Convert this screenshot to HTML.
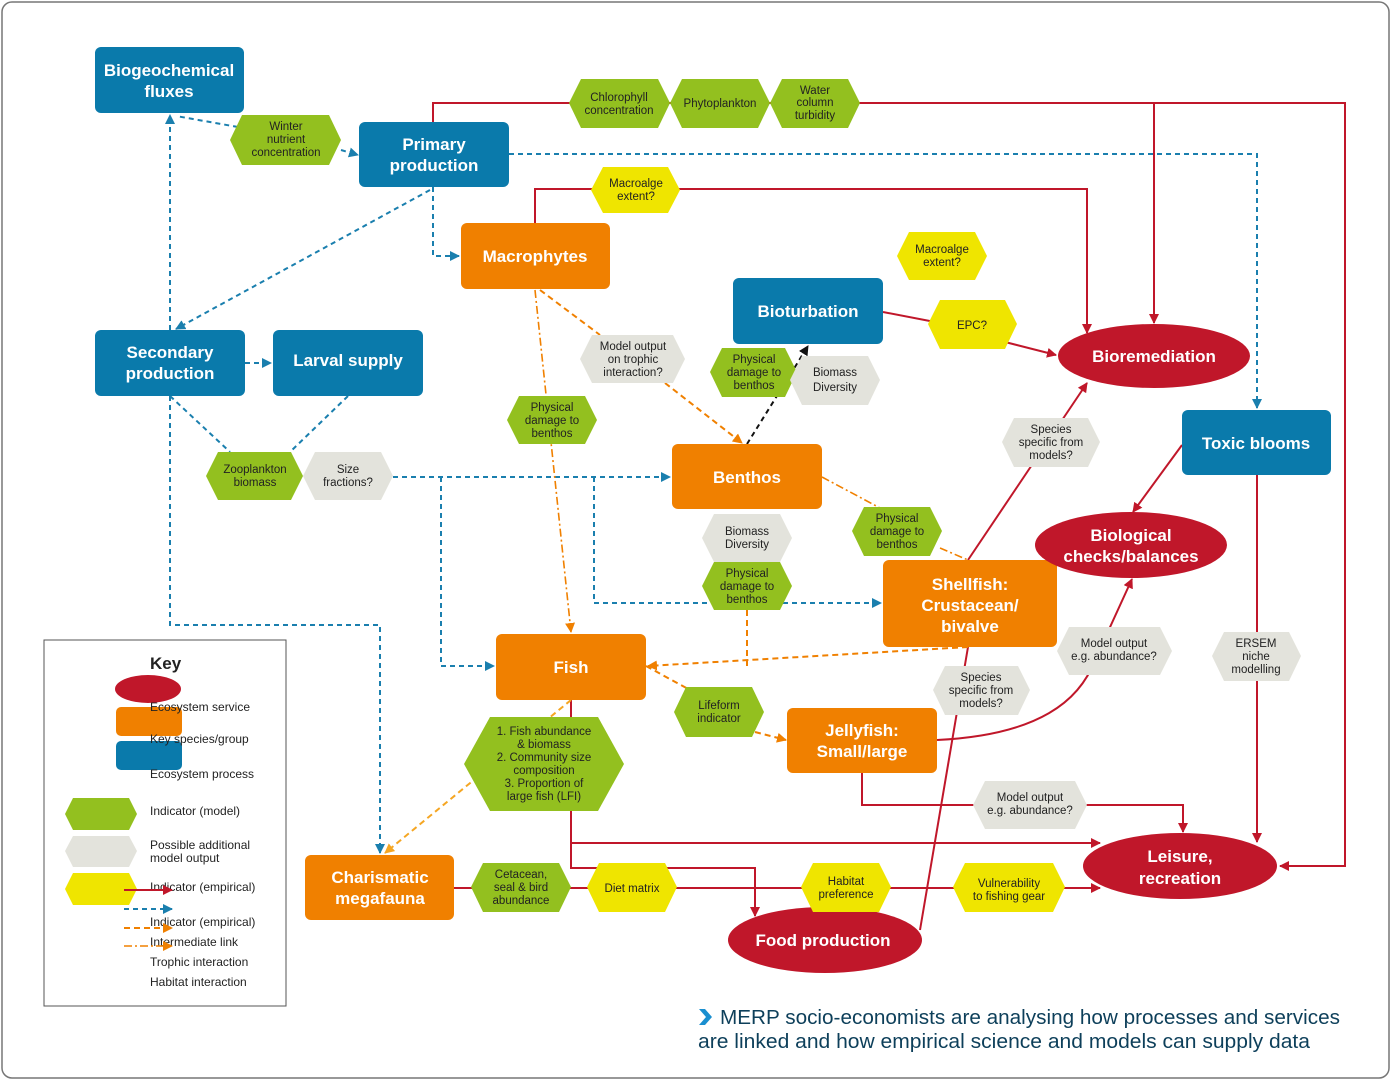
<!DOCTYPE html>
<html><head><meta charset="utf-8"><style>
html,body{margin:0;padding:0;background:#fff}
svg{display:block;font-family:"Liberation Sans",sans-serif}
.n{fill:#fff;font-size:17px;font-weight:bold;text-anchor:middle}
.h{fill:#222;font-size:11.5px;text-anchor:middle}
.k{fill:#222;font-size:12px}
.r{stroke:#c0172a;stroke-width:2;fill:none}
.b{stroke:#1a7fae;stroke-width:2;fill:none;stroke-dasharray:5,4}
.o{stroke:#f08000;stroke-width:2;fill:none;stroke-dasharray:6,4}
.od{stroke:#f08000;stroke-width:1.6;fill:none;stroke-dasharray:8,3,2,3}
.ol{stroke:#f5a623;stroke-width:2;fill:none;stroke-dasharray:6,4}
</style></head><body>
<svg width="1392" height="1081" viewBox="0 0 1392 1081">
<defs>
<marker id="ar" markerWidth="10" markerHeight="10" refX="9" refY="5" orient="auto" markerUnits="userSpaceOnUse"><path d="M0,0 L10,5 L0,10z" fill="#c0172a"/></marker>
<marker id="ab" markerWidth="10" markerHeight="10" refX="9" refY="5" orient="auto" markerUnits="userSpaceOnUse"><path d="M0,0 L10,5 L0,10z" fill="#1a7fae"/></marker>
<marker id="ao" markerWidth="10" markerHeight="10" refX="9" refY="5" orient="auto" markerUnits="userSpaceOnUse"><path d="M0,0 L10,5 L0,10z" fill="#f08000"/></marker>
<marker id="al" markerWidth="10" markerHeight="10" refX="9" refY="5" orient="auto" markerUnits="userSpaceOnUse"><path d="M0,0 L10,5 L0,10z" fill="#f5a623"/></marker>
<marker id="ak" markerWidth="10" markerHeight="10" refX="9" refY="5" orient="auto" markerUnits="userSpaceOnUse"><path d="M0,0 L10,5 L0,10z" fill="#111"/></marker>
</defs>
<rect x="2" y="2" width="1387" height="1076" rx="10" fill="#fff" stroke="#777" stroke-width="1.5"/>

<!-- red lines -->
<path class="r" d="M433,122 V103 H1345 V866 H1280" marker-end="url(#ar)"/>
<path class="r" d="M1154,103 V323" marker-end="url(#ar)"/>
<path class="r" d="M535,223 V189 H1087 V333" marker-end="url(#ar)"/>
<path class="r" d="M883,312 L935,322"/>
<path class="r" d="M1005,342 L1056,355" marker-end="url(#ar)"/>
<path class="r" d="M968,560 L1087,383" marker-end="url(#ar)"/>
<path class="r" d="M1182,445 L1133,512" marker-end="url(#ar)"/>
<path class="r" d="M937,740 C1040,735 1080,700 1095,660 L1132,579" marker-end="url(#ar)"/>
<path class="r" d="M862,773 V805 H1183 V832" marker-end="url(#ar)"/>
<path class="r" d="M1257,475 V842" marker-end="url(#ar)"/>
<path class="r" d="M571,700 V843 H1100" marker-end="url(#ar)"/>
<path class="r" d="M571,843 V868 H755 V916" marker-end="url(#ar)"/>
<path class="r" d="M454,888 H1100" marker-end="url(#ar)"/>
<path class="r" d="M920,930 L968,647"/>

<!-- blue dashed -->
<path class="b" d="M433,187 V256 H459" marker-end="url(#ab)"/>
<path class="b" d="M430,190 L176,329" marker-end="url(#ab)"/>
<path class="b" d="M509,154 H1257 V408" marker-end="url(#ab)"/>
<path class="b" d="M238,127 L176,116"/>
<path class="b" d="M341,150 L358,155" marker-end="url(#ab)"/>
<path class="b" d="M170,330 V115" marker-end="url(#ab)"/>
<path class="b" d="M245,363 H271" marker-end="url(#ab)"/>
<path class="b" d="M170,396 L230,452 M348,396 L290,452"/>
<path class="b" d="M170,396 V625 H380 V853" marker-end="url(#ab)"/>
<path class="b" d="M393,477 H670" marker-end="url(#ab)"/>
<path class="b" d="M441,477 V666 H494" marker-end="url(#ab)"/>
<path class="b" d="M594,477 V603 H881" marker-end="url(#ab)"/>
<path d="M747,444 L808,346" stroke="#111" stroke-width="2" stroke-dasharray="5,4" fill="none" marker-end="url(#ak)"/>

<!-- orange -->
<path class="o" d="M540,290 L600,335 M665,383 L742,443" marker-end="url(#ao)"/>
<path class="od" d="M535,290 L571,632" marker-end="url(#ao)"/>
<path class="od" d="M822,477 L880,508 M940,548 L968,560"/>
<path class="o" d="M968,647 L648,666" marker-end="url(#ao)"/>
<path class="o" d="M747,610 V666"/>
<path class="o" d="M646,666 L690,690 M755,732 L786,740" marker-end="url(#ao)"/>
<path class="ol" d="M571,700 L385,853" marker-end="url(#al)"/>

<!-- nodes -->
<g fill="#0a7aab">
<rect x="95" y="47" width="149" height="66" rx="6"/>
<rect x="359" y="122" width="150" height="65" rx="6"/>
<rect x="733" y="278" width="150" height="66" rx="6"/>
<rect x="95" y="330" width="150" height="66" rx="6"/>
<rect x="273" y="330" width="150" height="66" rx="6"/>
<rect x="1182" y="410" width="149" height="65" rx="6"/>
</g>
<g fill="#f08000">
<rect x="461" y="223" width="149" height="66" rx="6"/>
<rect x="672" y="444" width="150" height="65" rx="6"/>
<rect x="883" y="560" width="174" height="87" rx="6"/>
<rect x="496" y="634" width="150" height="66" rx="6"/>
<rect x="787" y="708" width="150" height="65" rx="6"/>
<rect x="305" y="855" width="149" height="65" rx="6"/>
</g>
<g fill="#c0172a">
<ellipse cx="1154" cy="356" rx="96" ry="32"/>
<ellipse cx="1131" cy="545" rx="96" ry="33"/>
<ellipse cx="1180" cy="866" rx="97" ry="33"/>
<ellipse cx="825" cy="940" rx="97" ry="33"/>
</g>
<text class="n" x="169" y="76">Biogeochemical</text><text class="n" x="169" y="97">fluxes</text>
<text class="n" x="434" y="150">Primary</text><text class="n" x="434" y="171">production</text>
<text class="n" x="535" y="262">Macrophytes</text>
<text class="n" x="808" y="317">Bioturbation</text>
<text class="n" x="170" y="358">Secondary</text><text class="n" x="170" y="379">production</text>
<text class="n" x="348" y="366">Larval supply</text>
<text class="n" x="1256" y="449">Toxic blooms</text>
<text class="n" x="747" y="483">Benthos</text>
<text class="n" x="970" y="590">Shellfish:</text><text class="n" x="970" y="611">Crustacean/</text><text class="n" x="970" y="632">bivalve</text>
<text class="n" x="571" y="673">Fish</text>
<text class="n" x="862" y="736">Jellyfish:</text><text class="n" x="862" y="757">Small/large</text>
<text class="n" x="380" y="883">Charismatic</text><text class="n" x="380" y="904">megafauna</text>
<text class="n" x="1154" y="362">Bioremediation</text>
<text class="n" x="1131" y="541">Biological</text><text class="n" x="1131" y="562">checks/balances</text>
<text class="n" x="1180" y="862">Leisure,</text><text class="n" x="1180" y="884">recreation</text>
<text class="n" x="823" y="946">Food production</text>

<!-- hexagons -->
<g fill="#93c01f">
<polygon points="569,103 581,79 658,79 670,103 658,128 581,128"/>
<polygon points="670,103 682,79 758,79 770,103 758,128 682,128"/>
<polygon points="770,103 782,79 848,79 860,103 848,128 782,128"/>
<polygon points="230,140 242,115 329,115 341,140 329,165 242,165"/>
<polygon points="710,372 722,348 785,348 797,372 785,397 722,397"/>
<polygon points="507,420 519,396 585,396 597,420 585,444 519,444"/>
<polygon points="206,476 218,452 291,452 303,476 291,500 218,500"/>
<polygon points="852,531 864,507 930,507 942,531 930,556 864,556"/>
<polygon points="702,586 714,562 780,562 792,586 780,610 714,610"/>
<polygon points="674,712 686,687 752,687 764,712 752,737 686,737"/>
<polygon points="464,764 490,717 598,717 624,764 598,811 490,811"/>
<polygon points="471,887 483,863 559,863 571,887 559,912 483,912"/>
</g>
<g fill="#e3e3dc">
<polygon points="580,359 592,335 673,335 685,359 673,383 592,383"/>
<polygon points="790,380 802,356 868,356 880,380 868,405 802,405"/>
<polygon points="1002,442 1014,418 1088,418 1100,442 1088,467 1014,467"/>
<polygon points="303,476 315,452 381,452 393,476 381,500 315,500"/>
<polygon points="702,538 714,514 780,514 792,538 780,562 714,562"/>
<polygon points="1057,651 1069,627 1160,627 1172,651 1160,675 1069,675"/>
<polygon points="1212,656 1224,632 1289,632 1301,656 1289,681 1224,681"/>
<polygon points="933,690 945,666 1018,666 1030,690 1018,715 945,715"/>
<polygon points="973,805 985,781 1075,781 1087,805 1075,829 985,829"/>
</g>
<g fill="#efe500">
<polygon points="591,190 603,167 668,167 680,190 668,213 603,213"/>
<polygon points="897,256 909,232 975,232 987,256 975,280 909,280"/>
<polygon points="928,324 940,300 1005,300 1017,324 1005,349 940,349"/>
<polygon points="587,887 599,863 665,863 677,887 665,912 599,912"/>
<polygon points="801,887 813,863 879,863 891,887 879,912 813,912"/>
<polygon points="953,887 965,863 1053,863 1065,887 1053,912 965,912"/>
</g>
<g class="h">
<text x="619" y="101">Chlorophyll</text><text x="619" y="114">concentration</text>
<text x="720" y="107">Phytoplankton</text>
<text x="815" y="94">Water</text><text x="815" y="106">column</text><text x="815" y="119">turbidity</text>
<text x="286" y="130">Winter</text><text x="286" y="143">nutrient</text><text x="286" y="156">concentration</text>
<text x="636" y="187">Macroalge</text><text x="636" y="200">extent?</text>
<text x="942" y="253">Macroalge</text><text x="942" y="266">extent?</text>
<text x="972" y="329">EPC?</text>
<text x="633" y="350">Model output</text><text x="633" y="363">on trophic</text><text x="633" y="376">interaction?</text>
<text x="754" y="363">Physical</text><text x="754" y="376">damage to</text><text x="754" y="389">benthos</text>
<text x="835" y="376">Biomass</text><text x="835" y="391">Diversity</text>
<text x="552" y="411">Physical</text><text x="552" y="424">damage to</text><text x="552" y="437">benthos</text>
<text x="1051" y="433">Species</text><text x="1051" y="446">specific from</text><text x="1051" y="459">models?</text>
<text x="255" y="473">Zooplankton</text><text x="255" y="486">biomass</text>
<text x="348" y="473">Size</text><text x="348" y="486">fractions?</text>
<text x="747" y="535">Biomass</text><text x="747" y="548">Diversity</text>
<text x="897" y="522">Physical</text><text x="897" y="535">damage to</text><text x="897" y="548">benthos</text>
<text x="747" y="577">Physical</text><text x="747" y="590">damage to</text><text x="747" y="603">benthos</text>
<text x="1114" y="647">Model output</text><text x="1114" y="660">e.g. abundance?</text>
<text x="1256" y="647">ERSEM</text><text x="1256" y="660">niche</text><text x="1256" y="673">modelling</text>
<text x="981" y="681">Species</text><text x="981" y="694">specific from</text><text x="981" y="707">models?</text>
<text x="719" y="709">Lifeform</text><text x="719" y="722">indicator</text>
<text x="544" y="735">1. Fish abundance</text><text x="544" y="748">&amp; biomass</text><text x="544" y="761">2. Community size</text><text x="544" y="774">composition</text><text x="544" y="787">3. Proportion of</text><text x="544" y="800">large fish (LFI)</text>
<text x="1030" y="801">Model output</text><text x="1030" y="814">e.g. abundance?</text>
<text x="521" y="878">Cetacean,</text><text x="521" y="891">seal &amp; bird</text><text x="521" y="904">abundance</text>
<text x="632" y="892">Diet matrix</text>
<text x="846" y="885">Habitat</text><text x="846" y="898">preference</text>
<text x="1009" y="887">Vulnerability</text><text x="1009" y="900">to fishing gear</text>
</g>

<!-- key -->
<rect x="44" y="640" width="242" height="366" fill="#fff" stroke="#555" stroke-width="1"/>
<text x="150" y="669" font-size="17" font-weight="bold" fill="#222">Key</text>
<ellipse cx="148" cy="689" rx="33" ry="14" fill="#c0172a"/>
<rect x="116" y="707" width="66" height="29" rx="5" fill="#f08000"/>
<rect x="116" y="741" width="66" height="29" rx="5" fill="#0a7aab"/>
<polygon points="65,814 73,798 129,798 137,814 129,830 73,830" fill="#93c01f"/>
<polygon points="65,851 73,836 129,836 137,851 129,867 73,867" fill="#e3e3dc"/>
<polygon points="65,889 73,873 129,873 137,889 129,905 73,905" fill="#efe500"/>
<g class="k">
<text x="150" y="711">Ecosystem service</text>
<text x="150" y="743">Key species/group</text>
<text x="150" y="778">Ecosystem process</text>
<text x="150" y="815">Indicator (model)</text>
<text x="150" y="849">Possible additional</text>
<text x="150" y="862">model output</text>
<text x="150" y="891">Indicator (empirical)</text>
<text x="150" y="926">Indicator (empirical)</text>
<text x="150" y="946">Intermediate link</text>
<text x="150" y="966">Trophic interaction</text>
<text x="150" y="986">Habitat interaction</text>
</g>
<path class="r" d="M124,890 H172" marker-end="url(#ar)"/>
<path class="b" d="M124,909 H172" marker-end="url(#ab)"/>
<path class="o" d="M124,928 H172" marker-end="url(#ao)"/>
<path class="od" d="M124,946 H172" marker-end="url(#ao)"/>

<!-- caption -->
<path d="M699,1009 L705,1009 L712,1017 L705,1025 L699,1025 L706,1017z" fill="#1a8fd0"/>
<text x="720" y="1024" font-size="20" fill="#0d3f5a" textLength="620" lengthAdjust="spacingAndGlyphs">MERP socio-economists are analysing how processes and services</text>
<text x="698" y="1048" font-size="20" fill="#0d3f5a" textLength="612" lengthAdjust="spacingAndGlyphs">are linked and how empirical science and models can supply data</text>
</svg>
</body></html>
